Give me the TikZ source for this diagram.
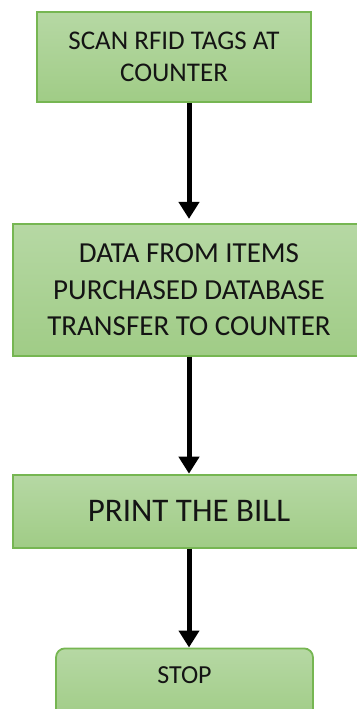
\documentclass[tikz,border=0pt]{standalone}
\usepackage{fontspec}
\setmainfont{Carlito}
\usetikzlibrary{arrows.meta, positioning}
\definecolor{boxtop}{RGB}{182,216,164}
\definecolor{boxbot}{RGB}{160,204,134}
\definecolor{boxedge}{RGB}{118,182,82}

\begin{document}
\begin{tikzpicture}[
    x=1pt, y=1pt,
    >={Triangle[length=17pt, width=20pt]},
    line width=5pt,
    box/.style={draw=boxedge, line width=1.8pt, top color=boxtop, bottom color=boxbot,
                rectangle, inner sep=0pt, align=center, text=black!92},
    endbox/.style={box, rounded corners=9pt},
    node distance=120pt
  ]
  \useasboundingbox (0,0) rectangle (356,-709);

  % --- pasos ---
  \node[box, minimum width=274pt, minimum height=90pt, font=\fontsize{27}{32}\selectfont]
    (scan) at (174,-57) {SCAN RFID TAGS AT\\ COUNTER};
  \node[box, below=120pt of scan, xshift=15pt, minimum width=352pt, minimum height=132pt,
        font=\fontsize{29}{36.5}\selectfont] (data)
    {DATA FROM ITEMS\\ PURCHASED DATABASE\\ TRANSFER TO COUNTER};
  \node[box, below=117pt of data, minimum width=352pt, minimum height=73pt,
        font=\fontsize{33}{38}\selectfont] (bill) {PRINT THE BILL};
  \node[endbox, below=99pt of bill, xshift=-4.5pt, minimum width=257pt,
        text height=35pt, text depth=37pt, font=\fontsize{26}{30}\selectfont] (stop) {STOP};

  % --- flechas ---
  \draw[->, shorten >=4pt] (scan.south -| data.center) -- (data.north);
  \draw[->] (data) -- (bill);
  \draw[->] (bill.south) -- (stop.north -| bill.south);
\end{tikzpicture}
\end{document}
